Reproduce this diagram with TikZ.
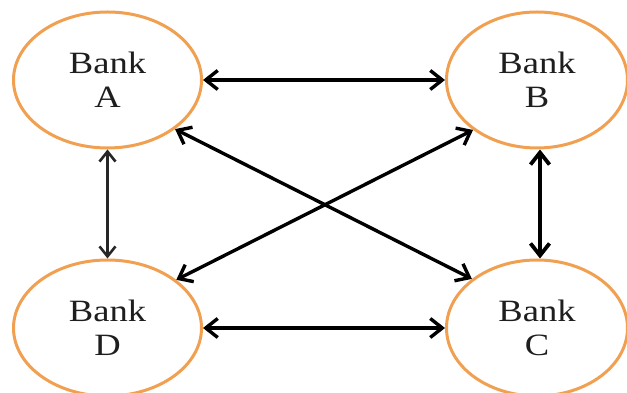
\documentclass[tikz,border=0pt]{standalone}
\usepackage{fontspec}
\setmainfont{Liberation Serif}
\usetikzlibrary{shapes.geometric,arrows.meta}
\definecolor{bankorange}{RGB}{240,160,80}
\definecolor{banktext}{RGB}{30,30,30}
\tikzset{
  bank/.style={ellipse, draw=bankorange, line width=3pt, fill=white,
    minimum width=188pt, minimum height=136pt, inner sep=0pt,
    text=banktext, align=center,
    font=\fontsize{31}{34}\selectfont},
  link/.style={line width=3.4pt, draw=black,
    {Straight Barb[length=12pt,width=19pt,line width=3.4pt]}-{Straight Barb[length=12pt,width=19pt,line width=3.4pt]}},
  thinlink/.style={line width=2.5pt, draw=black!85,
    {Straight Barb[length=10pt,width=16pt,line width=2.6pt]}-{Straight Barb[length=10pt,width=16pt,line width=2.6pt]}},
  thicklink/.style={line width=4.2pt, draw=black,
    {Straight Barb[length=12pt,width=19pt,line width=3.8pt]}-{Straight Barb[length=12pt,width=19pt,line width=3.8pt]}}
}
\newcommand{\stretchtxt}[1]{\scalebox{1.18}[1]{#1}}
\begin{document}
\begin{tikzpicture}[x=1pt,y=1pt]
  \useasboundingbox (0,0) rectangle (627,393);
  \node[bank] (A) at (107.5,313) {\stretchtxt{Bank}\\\stretchtxt{A}};
  \node[bank, minimum width=181pt] (B) at (537,313) {\stretchtxt{Bank}\\\stretchtxt{B}};
  \node[bank] (D) at (107.5,65) {\stretchtxt{Bank}\\\stretchtxt{D}};
  \node[bank, minimum width=181pt] (C) at (537,65) {\stretchtxt{Bank}\\\stretchtxt{C}};
  \draw[link] (A.east) -- (B.west);
  \draw[link] (D.east) -- (C.west);
  \draw[thinlink] (A.south) -- (D.north);
  \draw[thicklink] ([xshift=3pt]B.south) -- ([xshift=3pt]C.north);
  \draw[link] (A.-36) -- (C.143);
  \draw[link] (D.35) -- (B.-142);
\end{tikzpicture}
\end{document}
